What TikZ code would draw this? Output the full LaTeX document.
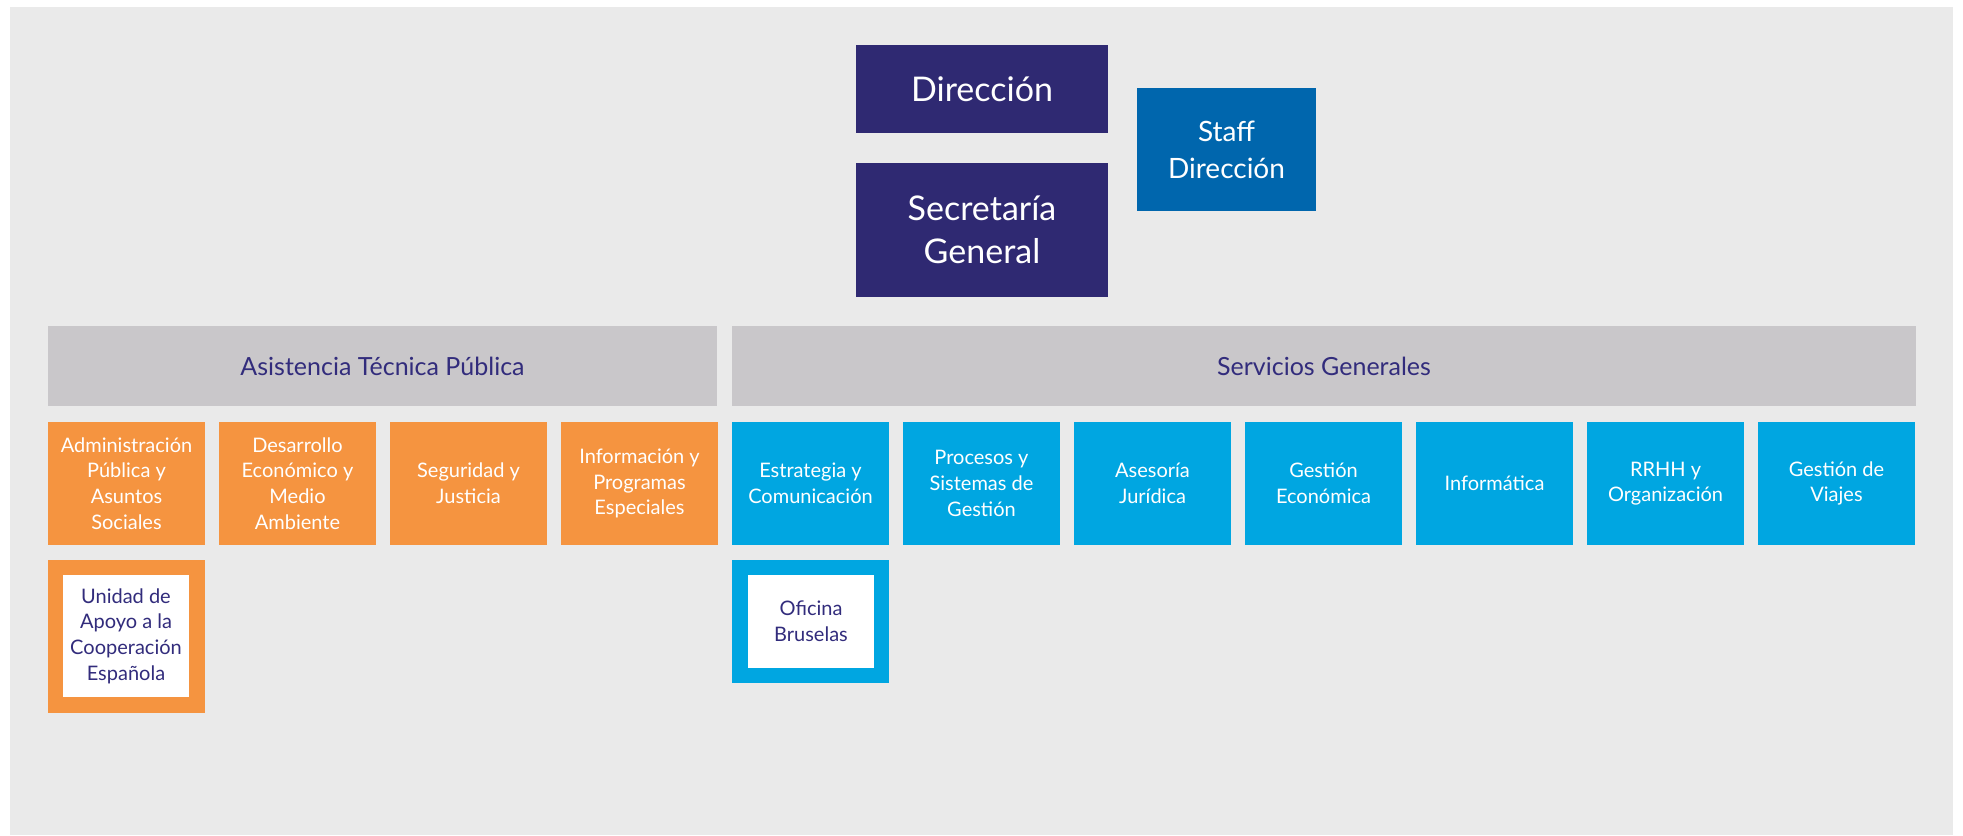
\documentclass[tikz,border=0pt]{standalone}
\usepackage{fontspec}
\setmainfont{Lato}

\definecolor{bgpaper}{RGB}{234,234,234}
\definecolor{navydir}{RGB}{47,41,114}
\definecolor{staffblue}{RGB}{0,102,173}
\definecolor{headgray}{RGB}{201,199,202}
\definecolor{headtext}{RGB}{50,44,124}
\definecolor{atporange}{RGB}{245,148,64}
\definecolor{sgblue}{RGB}{0,166,225}

\tikzset{every picture/.style={line width=0.75pt}}
\tikzset{
  topbox/.style={fill=navydir, text=white, align=center, inner sep=0pt,
    minimum width=126pt, font=\fontsize{17}{21.5}\selectfont},
  staffbox/.style={fill=staffblue, text=white, align=center, inner sep=0pt,
    minimum width=89.5pt, minimum height=61.5pt, font=\fontsize{14}{18.5}\selectfont},
  areabar/.style={fill=headgray, text=headtext, inner sep=0pt,
    minimum height=40pt, font=\fontsize{12.5}{15}\selectfont},
  unitbox/.style={text=white, align=center, inner sep=0pt,
    minimum width=78.5pt, minimum height=61.5pt, font=\fontsize{10}{12.8}\selectfont},
  subunit/.style={fill=white, text=headtext, align=center, inner sep=0pt,
    font=\fontsize{10}{12.8}\selectfont}
}

\begin{document}
\begin{tikzpicture}[x=0.5pt,y=0.5pt,yscale=-1]
%set diagram at 1963 x 835
\useasboundingbox (0,0) rectangle (1963,835);

%Shape: Background paper
\fill [white] (0,0) rectangle (1963,835);
\fill [bgpaper] (10,7) rectangle (1953,835);

% Direction nodes
\node [topbox, minimum height=44pt] (direccion) at (982,89) {Dirección};
\node [topbox, minimum height=67pt] (secretaria) at (982,230) {Secretaría\\General};
\node [staffbox] (staff) at (1226.5,149.5) {Staff\\Dirección};

% Area headers
\node [areabar, minimum width=334.5pt] (atp) at (382.5,366) {Asistencia Técnica Pública};
\node [areabar, minimum width=592pt] (sg) at (1324,366) {Servicios Generales};

% Asistencia Tecnica Publica units
\node [unitbox, fill=atporange] (admin) at (126.5,483.5) {Administración\\Pública y\\Asuntos\\Sociales};
\node [unitbox, fill=atporange] (desarrollo) at (297.5,483.5) {Desarrollo\\Económico y\\Medio\\Ambiente};
\node [unitbox, fill=atporange] (seguridad) at (468.5,483.5) {Seguridad y\\Justicia};
\node [unitbox, fill=atporange] (informacion) at (639.5,483.5) {Información y\\Programas\\Especiales};

% Servicios Generales units
\node [unitbox, fill=sgblue] (estrategia) at (810.5,483.5) {Estrategia y\\Comunicación};
\node [unitbox, fill=sgblue] (procesos) at (981.5,483.5) {Procesos y\\Sistemas de\\Gestión};
\node [unitbox, fill=sgblue] (asesoria) at (1152.5,483.5) {Asesoría\\Jurídica};
\node [unitbox, fill=sgblue] (economica) at (1323.5,483.5) {Gestión\\Económica};
\node [unitbox, fill=sgblue] (informatica) at (1494.5,483.5) {Informática};
\node [unitbox, fill=sgblue] (rrhh) at (1665.5,483.5) {RRHH y\\Organización};
\node [unitbox, fill=sgblue] (viajes) at (1836.5,483.5) {Gestión de\\Viajes};

% Framed sub-units
\node [unitbox, fill=atporange, minimum height=76.5pt] (unidadframe) at (126.5,636.5) {};
\node [subunit, minimum width=63pt, minimum height=61pt] (unidad) at (126,636) {Unidad de\\Apoyo a la\\Cooperación\\Española};
\node [unitbox, fill=sgblue] (oficinaframe) at (810.5,621.5) {};
\node [subunit, minimum width=63pt, minimum height=46.5pt] (oficina) at (811,621.5) {Oficina\\Bruselas};

\end{tikzpicture}
\end{document}
